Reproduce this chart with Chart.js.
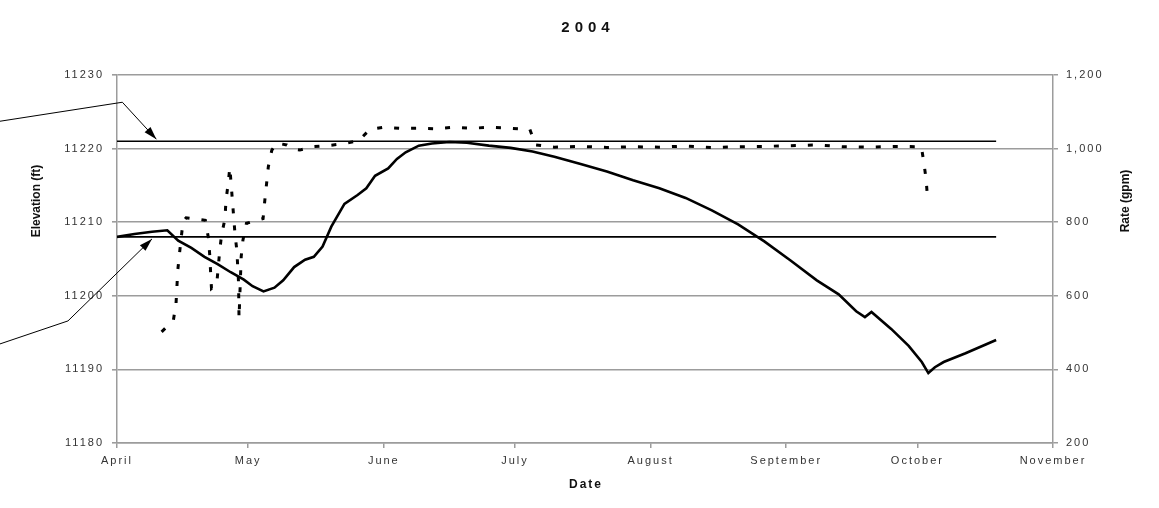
<!DOCTYPE html>
<html>
<head>
<meta charset="utf-8">
<script src="https://cdn.jsdelivr.net/npm/chart.js"></script>
<style>
  html, body { margin: 0; padding: 0; background: #fff; }
  #wrap { width: 1159px; height: 508px; }
</style>
</head>
<body>
<div id="wrap"><canvas id="chart"></canvas></div>
<script>
// days counted from April 1, 2004
const monthDays = [0, 30, 61, 91, 122, 153, 183, 214];
const monthLabels = ['April', 'May', 'June', 'July', 'August', 'September', 'October', 'November'];

// elevation (ft), left axis
const elevDays = [0, 4, 8, 11.5, 14, 17, 20, 23, 26, 29, 31, 33.5, 36, 38, 40.5, 43, 45, 47, 49, 52, 55, 57, 59, 62, 64, 66, 69, 72, 76, 80, 85, 90, 95, 100, 106, 112, 118, 124, 130, 136, 142, 148, 154, 160, 165, 169, 171, 172.5, 177, 181, 184, 185.5, 187, 189, 194, 201];
const elevFt = [11208.0, 11208.4, 11208.7, 11208.9, 11207.5, 11206.5, 11205.3, 11204.3, 11203.2, 11202.2, 11201.3, 11200.6, 11201.1, 11202.1, 11203.9, 11204.9, 11205.3, 11206.7, 11209.4, 11212.5, 11213.7, 11214.6, 11216.3, 11217.3, 11218.6, 11219.5, 11220.4, 11220.7, 11220.9, 11220.8, 11220.4, 11220.1, 11219.6, 11218.9, 11217.9, 11216.9, 11215.7, 11214.6, 11213.3, 11211.6, 11209.7, 11207.4, 11204.8, 11202.1, 11200.2, 11197.9, 11197.1, 11197.8, 11195.5, 11193.2, 11191.0, 11189.5, 11190.3, 11191.0, 11192.2, 11194.0];

// pumping rate (gpm), right axis
const rateDays = [10.2, 12.9, 13.5, 13.9, 14.3, 14.7, 15.1, 15.8, 20.2, 20.9, 21.2, 21.6, 22.8, 23.5, 23.9, 24.7, 24.9, 25.4, 25.8, 26.4, 26.7, 27.0, 27.4, 27.6, 27.8, 27.85, 27.9, 28.4, 28.8, 29.6, 33.4, 33.8, 34.2, 34.6, 35.4, 36.5, 38.8, 40.5, 41.8, 44.5, 48, 51, 55.2, 57.8, 61, 65, 69, 73, 77, 81, 85, 89, 94.4, 95.7, 100, 106, 112, 118, 124, 130, 136, 142, 148, 154, 160, 166, 172, 178, 183.9, 184.5, 185, 185.3];
const rateGpm = [502, 534, 580, 670, 716, 760, 801, 812, 805, 757, 711, 620, 632, 724, 765, 810, 857, 904, 949, 857, 810, 765, 724, 679, 634, 580, 539, 707, 752, 797, 810, 860, 905, 951, 996, 1015, 1010, 998, 996, 1005, 1008, 1012, 1021, 1052, 1058, 1055, 1055, 1054, 1058, 1055, 1058, 1056, 1052, 1010, 1004, 1006, 1003, 1005, 1004, 1007, 1003, 1005, 1006, 1008, 1010, 1005, 1004, 1006, 1005, 960, 915, 868];

// reference levels (ft) drawn as horizontal lines
const refLevels = [11221, 11208];
const refEndDay = 201;
const arrowDays = [9, 8];

const toXY = (xs, ys) => xs.map((x, i) => ({ x: x, y: ys[i] }));

const GRID = '#9c9c9c';
const TEXT = '#333';
const FONT = '"Liberation Sans", Arial, sans-serif';

const annotations = {
  id: 'annotations',
  beforeUpdate(chart) {
    chart.ctx.letterSpacing = '2px';
  },
  beforeDraw(chart) {
    chart.ctx.letterSpacing = '2px';
  },
  afterDatasetsDraw(chart) {
    const ctx = chart.ctx;
    const x = chart.scales.x, y = chart.scales.y;
    ctx.save();
    ctx.strokeStyle = '#000';
    ctx.fillStyle = '#000';
    ctx.lineWidth = 1;
    // leader lines pointing at the reference levels
    const tips = [
      { x: x.getPixelForValue(arrowDays[0]), y: y.getPixelForValue(refLevels[0]) - 2, dx: -34, dy: -37, sy: 19 },
      { x: x.getPixelForValue(arrowDays[1]), y: y.getPixelForValue(refLevels[1]) + 2, dx: -84, dy: 82, sy: 23 }
    ];
    tips.forEach(t => {
      const ex = t.x + t.dx, ey = t.y + t.dy;
      ctx.beginPath();
      ctx.moveTo(0, ey + t.sy);
      ctx.lineTo(ex, ey);
      ctx.lineTo(t.x, t.y);
      ctx.stroke();
      const a = Math.atan2(t.y - ey, t.x - ex);
      const len = 13, hw = 4;
      ctx.beginPath();
      ctx.moveTo(t.x, t.y);
      ctx.lineTo(t.x - len * Math.cos(a) + hw * Math.sin(a), t.y - len * Math.sin(a) - hw * Math.cos(a));
      ctx.lineTo(t.x - len * Math.cos(a) - hw * Math.sin(a), t.y - len * Math.sin(a) + hw * Math.cos(a));
      ctx.closePath();
      ctx.fill();
    });
    ctx.restore();
  },
  afterDraw(chart) {
    const ctx = chart.ctx;
    const area = chart.chartArea;
    const mid = (area.left + area.right) / 2;
    ctx.save();
    ctx.fillStyle = '#111';
    ctx.textAlign = 'center';
    ctx.textBaseline = 'middle';
    ctx.font = 'bold 15px ' + FONT;
    ctx.letterSpacing = '5px';
    ctx.fillText('2004', mid + 3, 28);
    ctx.font = 'bold 12px ' + FONT;
    ctx.letterSpacing = '2px';
    ctx.fillText('Date', mid + 1, 485);
    ctx.restore();

    ctx.save();
    ctx.fillStyle = '#111';
    ctx.textAlign = 'center';
    ctx.textBaseline = 'middle';
    ctx.font = 'bold 12px ' + FONT;
    ctx.letterSpacing = '0px';
    ctx.translate(37, 201);
    ctx.rotate(-Math.PI / 2);
    ctx.fillText('Elevation (ft)', 0, 0);
    ctx.restore();

    ctx.save();
    ctx.fillStyle = '#111';
    ctx.textAlign = 'center';
    ctx.textBaseline = 'middle';
    ctx.font = 'bold 12px ' + FONT;
    ctx.letterSpacing = '0px';
    ctx.translate(1126, 201);
    ctx.rotate(-Math.PI / 2);
    ctx.fillText('Rate (gpm)', 0, 0);
    ctx.restore();
  }
};

new Chart(document.getElementById('chart'), {
  type: 'line',
  data: {
    datasets: [
      {
        label: 'Elevation',
        data: toXY(elevDays, elevFt),
        borderColor: '#000',
        borderWidth: 2.6,
        pointRadius: 0,
        yAxisID: 'y'
      },
      {
        label: 'Rate',
        data: toXY(rateDays, rateGpm),
        borderColor: '#000',
        borderWidth: 3,
        borderDash: [5, 12],
        pointRadius: 0,
        yAxisID: 'y1'
      },
      {
        label: 'Upper level',
        data: [{ x: 0, y: refLevels[0] }, { x: refEndDay, y: refLevels[0] }],
        borderColor: '#000',
        borderWidth: 1.6,
        pointRadius: 0,
        yAxisID: 'y'
      },
      {
        label: 'Lower level',
        data: [{ x: 0, y: refLevels[1] }, { x: refEndDay, y: refLevels[1] }],
        borderColor: '#000',
        borderWidth: 1.6,
        pointRadius: 0,
        yAxisID: 'y'
      }
    ]
  },
  options: {
    responsive: true,
    maintainAspectRatio: false,
    animation: false,
    layout: { padding: { top: 75, left: 0, right: 0, bottom: 0 } },
    plugins: {
      legend: { display: false },
      tooltip: { enabled: false },
      title: { display: false }
    },
    scales: {
      x: {
        type: 'linear',
        min: monthDays[0],
        max: monthDays[monthDays.length - 1],
        afterBuildTicks: (scale) => {
          scale.ticks = monthDays.map(v => ({ value: v }));
        },
        afterFit: (scale) => { scale.height = 65; },
        ticks: {
          autoSkip: false,
          maxRotation: 0,
          padding: 6,
          color: TEXT,
          font: { family: FONT, size: 11 },
          callback: (value, index) => monthLabels[index]
        },
        grid: { drawOnChartArea: false, color: GRID, tickLength: 5, lineWidth: 1.5 },
        border: { color: GRID, width: 1.5 }
      },
      y: {
        position: 'left',
        min: 11180,
        max: 11230,
        afterFit: (scale) => { scale.width = 117; },
        ticks: {
          stepSize: 10,
          padding: 8,
          color: TEXT,
          font: { family: FONT, size: 11 },
          callback: (v) => String(v)
        },
        grid: { color: GRID, lineWidth: 1.6, tickLength: 5 },
        border: { color: GRID, width: 1.5 }
      },
      y1: {
        position: 'right',
        min: 200,
        max: 1200,
        afterFit: (scale) => { scale.width = 106; },
        ticks: {
          stepSize: 200,
          padding: 8,
          color: TEXT,
          font: { family: FONT, size: 11 },
          callback: (v) => v.toLocaleString('en-US')
        },
        grid: { drawOnChartArea: false, color: GRID, tickLength: 5, lineWidth: 1.5 },
        border: { color: GRID, width: 1.5 }
      }
    }
  },
  plugins: [annotations]
});
</script>
</body>
</html>
